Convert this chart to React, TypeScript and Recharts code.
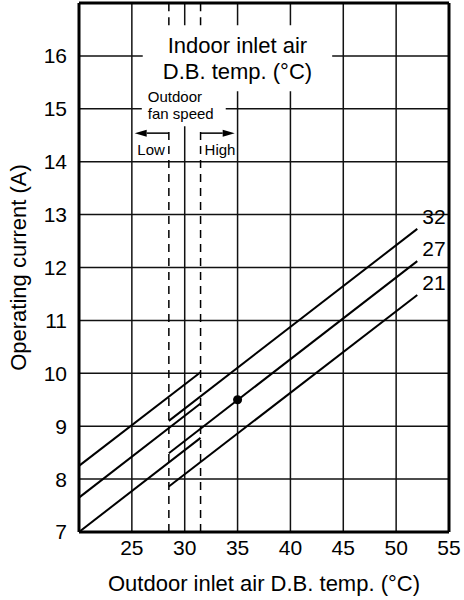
import React from 'react';
import {
  ComposedChart,
  Line,
  XAxis,
  YAxis,
  CartesianGrid,
  ReferenceLine,
  ReferenceArea,
  ReferenceDot,
} from 'recharts';

const FONT = '"Liberation Sans", Arial, Helvetica, sans-serif';

const xTicks = [25, 30, 35, 40, 45, 50, 55];
const yTicks = [7, 8, 9, 10, 11, 12, 13, 14, 15, 16];

// outdoor fan Low: lines run up to the 31.5 switch line
const lowX = [20, 31.5];
const low21 = [7.0, 8.78];
const low27 = [7.65, 9.43];
const low32 = [8.25, 10.02];

// outdoor fan High: lines start at the 28.5 switch line
const highX = [28.5, 52];
const high21 = [7.86, 11.48];
const high27 = [8.49, 12.12];
const high32 = [9.1, 12.73];

const indoorTemps = ['21', '27', '32'];
const fanSwitch = [28.5, 31.5];
const ratedPoint = { x: 35, y: 9.5 };

const toPoints = (xs: number[], ys: number[]) => xs.map((x, i) => ({ x, y: ys[i] }));

const series = [
  { key: 'low21', data: toPoints(lowX, low21), tag: '' },
  { key: 'low27', data: toPoints(lowX, low27), tag: '' },
  { key: 'low32', data: toPoints(lowX, low32), tag: '' },
  { key: 'high21', data: toPoints(highX, high21), tag: indoorTemps[0] },
  { key: 'high27', data: toPoints(highX, high27), tag: indoorTemps[1] },
  { key: 'high32', data: toPoints(highX, high32), tag: indoorTemps[2] },
];

function endLabel(tag: string) {
  return (props: any) => {
    if (!tag || props.index !== 1) return null;
    return (
      <text x={props.x + 5} y={props.y - 5} fontSize={21} fontFamily={FONT} fill="#000">
        {tag}
      </text>
    );
  };
}

function IndoorLabel(props: any) {
  const { x, y, width } = props.viewBox;
  const cx = x + width / 2;
  return (
    <text textAnchor="middle" fontSize={22} fontFamily={FONT} fill="#000">
      <tspan x={cx} y={y + 28}>Indoor inlet air</tspan>
      <tspan x={cx} y={y + 54}>D.B. temp. (°C)</tspan>
    </text>
  );
}

function FanLabel(props: any) {
  const { x, y } = props.viewBox;
  return (
    <g fontSize={15} fontFamily={FONT} fill="#000">
      <text x={x + 6} y={y + 11}>Outdoor</text>
      <text x={x + 6} y={y + 28}>fan speed</text>
    </g>
  );
}

function arrowShape(text: string) {
  return (props: any) => {
    const { x1, y1, x2 } = props;
    const dir = x2 < x1 ? -1 : 1;
    const head = 12;
    return (
      <g>
        <line x1={x1} y1={y1} x2={x2 - dir * head} y2={y1} stroke="#000" strokeWidth={1.5} />
        <polygon
          points={`${x2},${y1} ${x2 - dir * head},${y1 - 3.5} ${x2 - dir * head},${y1 + 3.5}`}
          fill="#000"
        />
        <text
          x={x1 + dir * 4}
          y={y1 + 21.5}
          textAnchor={dir < 0 ? 'end' : 'start'}
          fontSize={15}
          fontFamily={FONT}
          fill="#000"
        >
          {text}
        </text>
      </g>
    );
  };
}

export default function App() {
  return (
    <div style={{ position: 'absolute', left: 0, top: 0, width: 464, height: 600, background: '#fff', fontFamily: FONT }}>
      <ComposedChart width={464} height={600} margin={{ top: 3, right: 15, bottom: 0, left: 0 }}>
        <CartesianGrid stroke="#111" strokeWidth={1.5} />
        <XAxis
          dataKey="x"
          type="number"
          domain={[20, 55]}
          ticks={xTicks}
          allowDataOverflow
          axisLine={false}
          tickLine={false}
          height={68}
          tick={{ fill: '#000', fontSize: 21, fontFamily: FONT }}
          label={(p: any) => (
            <text
              x={p.viewBox.x + p.viewBox.width / 2}
              y={p.viewBox.y + 59}
              textAnchor="middle"
              fontSize={22}
              fontFamily={FONT}
              fill="#000"
            >
              Outdoor inlet air D.B. temp. (°C)
            </text>
          )}
        />
        <YAxis
          type="number"
          domain={[7, 17]}
          ticks={yTicks}
          allowDataOverflow
          axisLine={false}
          tickLine={false}
          width={79}
          tickMargin={6}
          tick={{ fill: '#000', fontSize: 21, fontFamily: FONT }}
          label={(p: any) => {
            const cy = p.viewBox.y + p.viewBox.height / 2;
            return (
              <text
                x={26}
                y={cy}
                transform={`rotate(-90, 26, ${cy})`}
                textAnchor="middle"
                fontSize={22}
                fontFamily={FONT}
                fill="#000"
              >
                Operating current (A)
              </text>
            );
          }}
        />

        {fanSwitch.map((fx) => (
          <ReferenceLine
            key={`d1-${fx}`}
            segment={[{ x: fx, y: 7 }, { x: fx, y: 14.67 }]}
            stroke="#000"
            strokeWidth={1.5}
            strokeDasharray="8 6"
          />
        ))}
        {fanSwitch.map((fx) => (
          <ReferenceLine
            key={`d2-${fx}`}
            segment={[{ x: fx, y: 16.58 }, { x: fx, y: 17 }]}
            stroke="#000"
            strokeWidth={1.5}
            strokeDasharray="8 6"
          />
        ))}

        <ReferenceArea x1={26.03} x2={43.95} y1={15.33} y2={16.58} fill="#fff" fillOpacity={1} stroke="none" label={IndoorLabel} />
        <ReferenceArea x1={25.94} x2={33.88} y1={14.67} y2={15.33} fill="#fff" fillOpacity={1} stroke="none" label={FanLabel} />

        <ReferenceLine
          segment={[{ x: fanSwitch[0], y: 14.54 }, { x: 25.27, y: 14.54 }]}
          shape={arrowShape('Low')}
        />
        <ReferenceLine
          segment={[{ x: fanSwitch[1], y: 14.54 }, { x: 34.73, y: 14.54 }]}
          shape={arrowShape('High')}
        />

        <ReferenceLine x={20} stroke="#000" strokeWidth={3} />
        <ReferenceLine x={55} stroke="#000" strokeWidth={3} />
        <ReferenceLine y={7} stroke="#000" strokeWidth={3} />
        <ReferenceLine y={17} stroke="#000" strokeWidth={3} />

        {series.map((s) => (
          <Line
            key={s.key}
            data={s.data}
            dataKey="y"
            type="linear"
            stroke="#000"
            strokeWidth={2}
            dot={false}
            activeDot={false}
            isAnimationActive={false}
            label={endLabel(s.tag)}
          />
        ))}

        <ReferenceDot x={ratedPoint.x} y={ratedPoint.y} r={4.5} fill="#000" stroke="none" />
      </ComposedChart>
    </div>
  );
}
